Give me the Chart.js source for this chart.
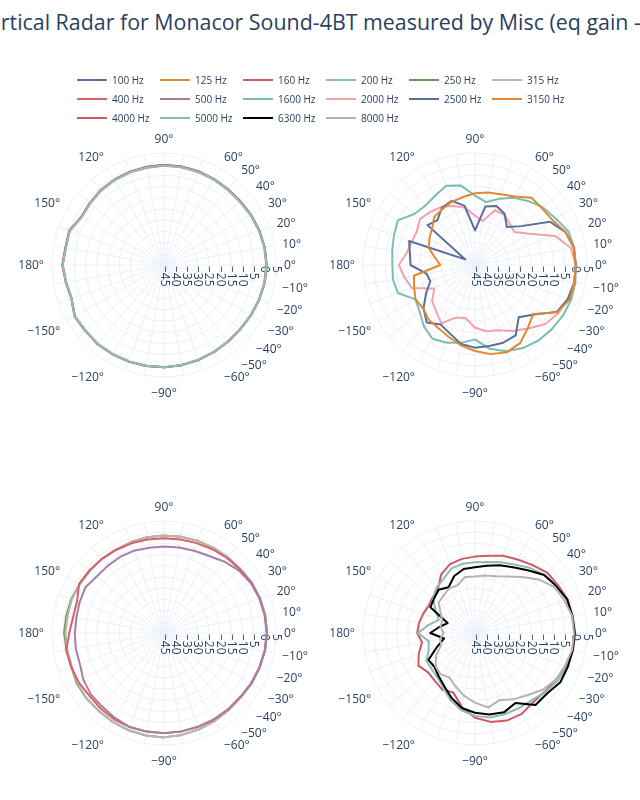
<!DOCTYPE html>
<html lang="en">
<head>
  <meta charset="UTF-8">
  <title>Vertical Radar - Monacor Sound-4BT</title>
  <script src="https://cdn.jsdelivr.net/npm/chart.js"></script>
  <style>
    body { margin: 0; width: 640px; height: 800px; overflow: hidden; background: #fff; position: relative;
           font-family: "Open Sans", verdana, arial, sans-serif; color: #2a3f5f; }
    #title { position: absolute; left: -24px; top: 7px; white-space: nowrap; font-size: 21.4px; }
    #legend { position: absolute; left: 77px; top: 70px; display: grid; grid-template-columns: repeat(6, 83px); grid-auto-rows: 19px; z-index: 2; }
    .item { display: flex; align-items: center; font-size: 10px; white-space: nowrap; }
    .item span.line { display: inline-block; width: 30px; height: 2px; margin-right: 5px; }
    canvas { position: absolute; }
  </style>
</head>
<body>
  <div id="title">Vertical Radar for Monacor Sound-4BT measured by Misc (eq gain -1)</div>
  <div id="legend"></div>
  <canvas id="c1" width="320" height="320" style="left:4px; top:105px"></canvas>
  <canvas id="c2" width="320" height="320" style="left:315px; top:105px"></canvas>
  <canvas id="c3" width="320" height="320" style="left:4px; top:473px"></canvas>
  <canvas id="c4" width="320" height="320" style="left:315px; top:473px"></canvas>

  <script>
    // angles in drawing order (clockwise from 0 deg on the right)
    const angles = [0, -10, -20, -30, -40, -50, -60, -70, -80, -90, -100, -110, -120, -130, -140, -150, -160, -170,
                    180, 170, 160, 150, 140, 130, 120, 110, 100, 90, 80, 70, 60, 50, 40, 30, 20, 10];
    const angleTicks = [90, 60, 50, 40, 30, 20, 10, 0, -10, -20, -30, -40, -50, -60, -90, -120, -150, 180, 150, 120];
    const radialMin = -45;
    const radialMax = 5;
    const radialStep = 5;

    const freq100  = [0.8, 0.6, 0.2, -0.2, -0.5, -0.4, -0.2, 0.1, 0.4, 0.7, 0.8, 0.9, 1.0, 1.1, 0.8, 1.0, -1.1, -0.6, 0.3, -0.4, -0.1, -2.3, -1.9, -1.3, -1.0, -0.8, -0.6, -0.4, -0.4, -0.5, -0.7, -0.8, -0.7, -0.2, 0.2, 0.6];
    const freq125  = [0.7, 0.5, 0.1, -0.3, -0.6, -0.5, -0.3, 0, 0.3, 0.6, 0.7, 0.8, 0.9, 1.0, 0.7, 0.9, -1.2, -0.7, 0.2, -0.5, -0.3, -2.5, -2.1, -1.5, -1.2, -1.0, -0.9, -0.7, -0.7, -0.8, -0.9, -1.0, -0.9, -0.4, 0.1, 0.5];
    const freq160  = [0.9, 0.7, 0.3, -0.1, -0.5, -0.4, -0.2, 0.1, 0.4, 0.7, 0.8, 0.9, 1.0, 1.1, 0.9, 1.1, -1.0, -0.5, 0.4, -0.3, 0, -2.2, -1.8, -1.2, -0.9, -0.7, -0.5, -0.3, -0.3, -0.4, -0.6, -0.7, -0.6, -0.1, 0.3, 0.7];
    const freq200  = [0.8, 0.6, 0.2, -0.2, -0.6, -0.5, -0.3, 0, 0.3, 0.6, 0.7, 0.8, 0.9, 1.0, 0.8, 1.0, -1.1, -0.6, 0.2, -0.5, -0.2, -2.4, -2.0, -1.4, -1.1, -0.9, -0.8, -0.6, -0.6, -0.7, -0.8, -0.9, -0.8, -0.3, 0.1, 0.6];
    const freq250  = [1.0, 0.8, 0.4, 0.1, -0.3, -0.1, 0.3, 0.8, 1.2, 1.6, 1.5, 1.2, 0.8, 0.4, 0.3, 0, -1.0, -0.8, -0.4, -0.7, -0.9, -1.5, -1.8, -1.9, -2.0, -1.8, -1.6, -1.5, -1.4, -1.2, -1.0, -0.8, -0.5, 0.2, 0.6, 0.9];
    const freq315  = [1.0, 0.8, 0.4, 0.1, -0.3, -0.1, 0.3, 0.8, 1.2, 1.6, 1.5, 1.2, 0.8, 0.3, 0.1, -0.3, -1.2, -1.2, -1.0, -1.3, -1.2, -1.6, -1.8, -1.9, -2.0, -1.8, -1.6, -1.5, -1.4, -1.2, -1.0, -0.8, -0.5, 0.2, 0.6, 0.9];
    const freq400  = [0.9, 0.7, 0.3, 0, -0.5, -0.5, -0.4, -0.4, -0.4, -0.3, -0.3, -0.3, -0.5, -1.0, -1.5, -1.0, -0.9, -0.7, -2.7, -3.8, -3.7, -1.2, -1.5, -1.8, -2.2, -2.4, -2.6, -2.7, -2.6, -2.3, -1.8, -1.3, -0.8, 0, 0.4, 0.7];
    const freq500  = [0.9, 0.7, 0.3, -0.1, -0.5, -0.5, -0.5, -0.5, -0.4, -0.3, -0.3, -0.3, -1.2, -2.1, -2.4, -3.4, -5.0, -5.0, -5.2, -5.3, -4.9, -4.4, -5.8, -5.9, -5.8, -5.9, -6.4, -6.4, -6.2, -5.9, -5.2, -3.3, -1.5, -0.3, 0.3, 0.7];
    const freq1600 = [0, 0.5, 0.7, 0.3, -0.3, -1.0, -2.2, -4.0, -7.0, -11.8, -9.7, -8.1, -7.0, -9.4, -12.7, -14.3, -8.4, -7.8, -8.1, -7.5, -6.5, -5.2, -9.6, -10.5, -9.3, -7.4, -9.0, -14.0, -16.5, -13.5, -10.3, -7.8, -5.2, -3.4, -0.7, 0];
    const freq2000 = [0, 0, -1, -2, -4, -8, -11, -14, -15, -17, -21, -20, -15, -18, -20, -24, -15, -13, -11, -14, -15, -15, -13, -14, -15, -17, -19, -23, -25, -19, -19, -21, -22, -17, -7, -1.5];
    const freq2500 = [0, 0, -0.8, -3, -10.6, -14.6, -8.7, -8.1, -8.3, -8.1, -9.2, -12.4, -14.3, -11.5, -15, -19.8, -23.8, -23, -16.2, -15.5, -13.7, -40, -17.3, -18.9, -15.5, -14.5, -18.2, -29.5, -18.5, -17, -18.6, -22.9, -18, -6.4, -2, -0.3];
    const freq3150 = [0, 0, 0, -2.7, -11, -8.3, -4.7, -3.5, -4.6, -6.6, -8.6, -10.8, -12.4, -13, -14.8, -14.3, -16.1, -17.3, -29.5, -27, -23, -21.5, -19.9, -16.8, -16.1, -14.9, -14.2, -13, -12.1, -11.4, -9.7, -5.8, -5.8, -5, -2, -0.2];
    const freq4000 = [-0.3, -0.6, -1.6, -3.4, -4.3, -4.6, -3.3, -3.4, -4.7, -7.2, -11.4, -16.7, -15.8, -17.1, -17.7, -15.8, -18.3, -21, -19.2, -19.6, -20.3, -21, -20.3, -19.3, -14.8, -12.3, -11.4, -10.9, -10, -8.3, -7.1, -5.3, -3, -2.2, -1, -0.8];
    const freq5000 = [-0.6, -0.8, -1.2, -2.4, -4, -5.7, -6.2, -6.4, -6.7, -8, -10, -13.1, -16.8, -19, -19.8, -20, -23, -24, -19.5, -24, -27.8, -24.6, -20.5, -18.4, -17, -14.3, -13.6, -13.4, -12.8, -11.4, -9.7, -7, -4.6, -2.8, -1.3, -0.8];
    const freq6300 = [-0.5, -0.7, -0.9, -1, -3, -3, -8.9, -7.3, -8.1, -9.4, -11, -14.2, -17.6, -19.8, -21.4, -21, -27, -31, -25, -29, -32, -22, -21.1, -19.8, -21.4, -17.9, -16, -15.6, -14.5, -12.8, -11.1, -8.4, -4.7, -3.1, -1.2, -0.9];
    const freq8000 = [-0.8, -1, -2.3, -3.3, -5.6, -8.7, -10.8, -13.1, -11.2, -13.9, -16.6, -19.6, -22.1, -21, -22, -25, -28.9, -29.2, -31, -29.3, -29.4, -27.3, -23.8, -23.2, -22, -22.3, -19.6, -19.8, -18.9, -18, -15.9, -12.3, -7.8, -4, -2.5, -1];

    const series = [
      { name: '100 Hz',  data: freq100,  color: '#5a6e9e', plot: 0 },
      { name: '125 Hz',  data: freq125,  color: '#e08a30', plot: 0 },
      { name: '160 Hz',  data: freq160,  color: '#cf5a5c', plot: 0 },
      { name: '200 Hz',  data: freq200,  color: '#8cc0b8', plot: 0 },
      { name: '250 Hz',  data: freq250,  color: '#6aa056', plot: 2 },
      { name: '315 Hz',  data: freq315,  color: '#bdb5b2', plot: 2 },
      { name: '400 Hz',  data: freq400,  color: '#d95f68', plot: 2 },
      { name: '500 Hz',  data: freq500,  color: '#a97ea6', plot: 2 },
      { name: '1600 Hz', data: freq1600, color: '#7cbdb3', plot: 1 },
      { name: '2000 Hz', data: freq2000, color: '#f4a1aa', plot: 1 },
      { name: '2500 Hz', data: freq2500, color: '#5a6e9e', plot: 1 },
      { name: '3150 Hz', data: freq3150, color: '#e08a30', plot: 1 },
      { name: '4000 Hz', data: freq4000, color: '#cc5a5e', plot: 3 },
      { name: '5000 Hz', data: freq5000, color: '#8fbab2', plot: 3 },
      { name: '6300 Hz', data: freq6300, color: '#000000', plot: 3 },
      { name: '8000 Hz', data: freq8000, color: '#bab2ae', plot: 3 }
    ];

    const font = '"Open Sans", verdana, arial, sans-serif';
    const gridColor = '#ebf0f8';
    const textColor = '#2a3f5f';

    function fmt(v) {
      return v < 0 ? '\u2212' + Math.abs(v) : String(v);
    }

    // angular tick labels, anchored outside the outer ring the way plotly does it
    const angleLabels = {
      id: 'angleLabels',
      afterDraw(chart) {
        const r = chart.scales.r;
        const ctx = chart.ctx;
        const fs = 12, pad = 8;
        ctx.save();
        ctx.font = fs + 'px ' + font;
        ctx.fillStyle = textColor;
        ctx.textBaseline = 'alphabetic';
        angles.forEach((a, i) => {
          if (!angleTicks.includes(a)) return;
          const p = r.getPointPosition(i, r.drawingArea);
          const cos = Math.cos(p.angle);
          const sin = -Math.sin(p.angle);
          const ff = sin > 0 ? 0.2 : 1;
          ctx.textAlign = Math.abs(cos) < 0.1 ? 'center' : (cos > 0 ? 'left' : 'right');
          const x = p.x + cos * pad;
          const y = p.y - sin * (pad + fs * ff) + Math.abs(cos) * fs * 0.35;
          ctx.fillText(fmt(a) + '\u00b0', x, y);
        });
        ctx.restore();
      }
    };

    function makeChart(id, plot) {
      const datasets = [];
      series.forEach((s, k) => {
        if (s.plot !== plot) return;
        datasets.push({
          label: s.name,
          data: s.data,
          borderColor: s.color,
          borderWidth: 2,
          borderJoinStyle: 'round',
          pointRadius: 0,
          fill: false,
          order: series.length - k
        });
      });
      new Chart(document.getElementById(id), {
        type: 'radar',
        data: { labels: angles.map(fmt), datasets: datasets },
        options: {
          responsive: false,
          animation: false,
          layout: { padding: 40 },
          plugins: { legend: { display: false }, tooltip: { enabled: false } },
          scales: {
            r: {
              min: radialMin,
              max: radialMax,
              startAngle: 90,
              grid: { color: gridColor, circular: true },
              angleLines: { color: gridColor },
              pointLabels: { display: false },
              ticks: {
                stepSize: radialStep,
                color: textColor,
                font: { family: font, size: 12 },
                showLabelBackdrop: false,
                callback: (v) => {
                  const s = fmt(v);
                  return '\u2007'.repeat(s.length) + '\u2009' + s;
                }
              }
            }
          }
        },
        plugins: [angleLabels]
      });
    }

    function buildLegend() {
      const legend = document.getElementById('legend');
      series.forEach(s => {
        const item = document.createElement('div');
        item.className = 'item';
        item.innerHTML = `<span class="line" style="background:${s.color}"></span>${s.name}`;
        legend.appendChild(item);
      });
    }

    buildLegend();
    makeChart('c1', 0);
    makeChart('c2', 1);
    makeChart('c3', 2);
    makeChart('c4', 3);
  </script>
</body>
</html>
